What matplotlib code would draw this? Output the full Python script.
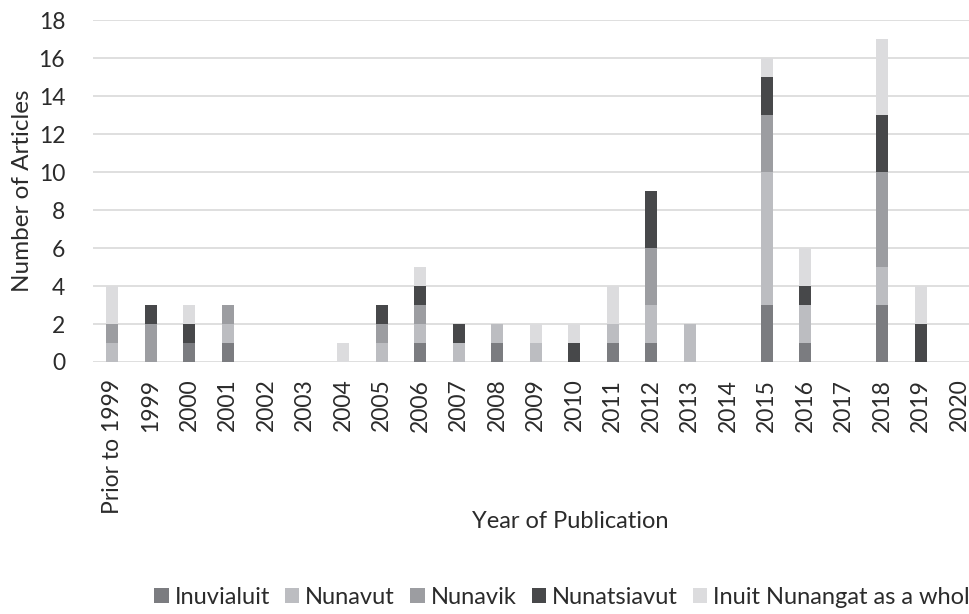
import numpy as np
import matplotlib
matplotlib.use('Agg')
import matplotlib.pyplot as plt

# ---------------------------------------
# Datos
# ---------------------------------------
categories = ['Prior to 1999', '1999', '2000', '2001', '2002', '2003', '2004',
              '2005', '2006', '2007', '2008', '2009', '2010', '2011', '2012',
              '2013', '2014', '2015', '2016', '2017', '2018', '2019', '2020']

inuvialuit  = [0, 0, 1, 1, 0, 0, 0, 0, 1, 0, 1, 0, 0, 1, 1, 0, 0, 3, 1, 0, 3, 0, 0]
nunavut     = [1, 0, 0, 1, 0, 0, 0, 1, 1, 1, 1, 1, 0, 1, 2, 2, 0, 7, 2, 0, 2, 0, 0]
nunavik     = [1, 2, 0, 1, 0, 0, 0, 1, 1, 0, 0, 0, 0, 0, 3, 0, 0, 3, 0, 0, 5, 0, 0]
nunatsiavut = [0, 1, 1, 0, 0, 0, 0, 1, 1, 1, 0, 0, 1, 0, 3, 0, 0, 2, 1, 0, 3, 2, 0]
whole       = [2, 0, 1, 0, 0, 0, 1, 0, 1, 0, 0, 1, 1, 2, 0, 0, 0, 1, 2, 0, 4, 2, 0]

series_names = ['Inuvialuit', 'Nunavut', 'Nunavik', 'Nunatsiavut',
                'Inuit Nunangat as a whole']
series = [inuvialuit, nunavut, nunavik, nunatsiavut, whole]
colors = ['#7b7c80', '#bcbdc1', '#9c9da1', '#47484a', '#dcdcde']

yticks = [0, 2, 4, 6, 8, 10, 12, 14, 16, 18]

# ---------------------------------------
# Estilo
# ---------------------------------------
plt.rcParams['font.family'] = ['Lato', 'DejaVu Sans']
text_color = '#2b2b2b'
fs = 16.5

fig = plt.figure(figsize=(9.69, 6.14), dpi=100)
ax = fig.add_axes([93 / 969, 252 / 614, 885.5 / 969, 341.5 / 614])

x = np.arange(len(categories))
bottom = np.zeros(len(categories))
for name, vals, col in zip(series_names, series, colors):
    vals = np.array(vals)
    ax.bar(x, vals, width=0.31, bottom=bottom, color=col, label=name, zorder=3)
    bottom += vals

ax.set_xlim(-0.5, len(categories) - 0.5)
ax.set_ylim(0, 18)
ax.set_yticks(yticks)
ax.set_xticks(x)
ax.set_xticklabels(categories, rotation=90, fontsize=fs, color=text_color)
ax.tick_params(axis='y', labelsize=fs, labelcolor=text_color, length=0, pad=20)
ax.tick_params(axis='x', length=0, pad=12)

ax.grid(axis='y', color='#d9d9d9', linewidth=1.2, zorder=0)
for s in ax.spines.values():
    s.set_visible(False)

ax.set_ylabel('Number of Articles', fontsize=17.5, color=text_color, labelpad=4)
fig.text(570 / 969, 1 - 521 / 614, 'Year of Publication', fontsize=17,
         color=text_color, ha='center', va='center')

# Leyenda (recortada por el borde derecho como en el original)
fig.legend(loc='center left', bbox_to_anchor=(145 / 969, 1 - 597 / 614),
           ncol=5, frameon=False, fontsize=17, handlelength=0.6,
           handleheight=0.6, handletextpad=0.25, columnspacing=0.65,
           labelcolor=text_color, borderaxespad=0)

fig.savefig('out.png', dpi=100)
